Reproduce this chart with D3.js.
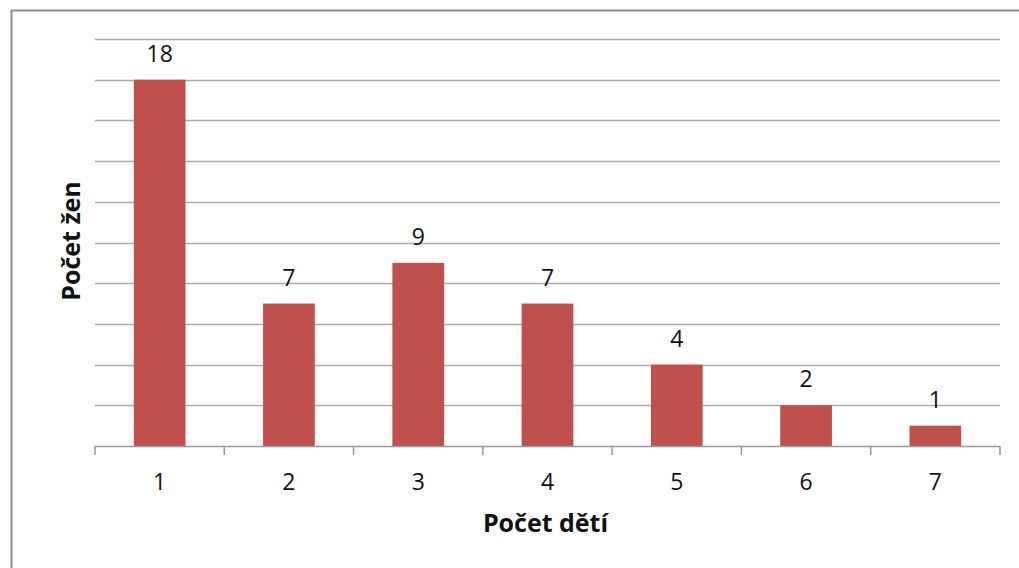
<!DOCTYPE html>
<html>
<head>
<meta charset="utf-8">
<script src="https://cdn.jsdelivr.net/npm/d3@7"></script>
<style>
  body { margin: 0; background: #fff; }
  text { font-family: "Open Sans", sans-serif; fill: #111; }
</style>
</head>
<body>
<div id="chart"></div>
<script>
// data
const categories = ["1", "2", "3", "4", "5", "6", "7"];
const values = [18, 7, 9, 7, 4, 2, 1];
const yTicks = [0, 2, 4, 6, 8, 10, 12, 14, 16, 18, 20];
const xTitle = "Počet dětí";
const yTitle = "Počet žen";

const width = 1019, height = 568;
const plot = { left: 95, right: 1000, top: 39, bottom: 446 };

const svg = d3.select("#chart").append("svg")
  .attr("width", width).attr("height", height);

// frame around the chart area (right and bottom are cut off)
svg.append("path")
  .attr("d", `M11.5,${height} V10.5 H${width}`)
  .attr("fill", "none").attr("stroke", "#8c8c8c").attr("stroke-width", 2);

const x = d3.scaleBand().domain(categories)
  .range([plot.left, plot.right])
  .paddingInner(0.6).paddingOuter(0.3);

const y = d3.scaleLinear().domain([0, 20]).range([plot.bottom, plot.top]);

// gridlines
svg.append("g").attr("class", "grid")
  .selectAll("line").data(yTicks.filter(d => d > 0))
  .enter().append("line")
  .attr("x1", plot.left).attr("x2", plot.right)
  .attr("y1", d => Math.round(y(d)) + 0.5).attr("y2", d => Math.round(y(d)) + 0.5)
  .attr("stroke", "#ababab").attr("stroke-width", 1.5);

// bars
svg.append("g").attr("class", "bars")
  .selectAll("rect").data(values)
  .enter().append("rect")
  .attr("x", (d, i) => x(categories[i]))
  .attr("width", x.bandwidth())
  .attr("y", d => y(d))
  .attr("height", d => y(0) - y(d))
  .attr("fill", "#c0504d");

// data labels
svg.append("g").attr("class", "labels")
  .selectAll("text").data(values)
  .enter().append("text")
  .attr("x", (d, i) => x(categories[i]) + x.bandwidth() / 2)
  .attr("y", d => y(d) - 18)
  .attr("text-anchor", "middle")
  .attr("font-size", 23)
  .text(d => d);

// x axis: line + tick marks at category boundaries
const axis = svg.append("g").attr("class", "x-axis");
axis.append("line")
  .attr("x1", plot.left).attr("x2", plot.right)
  .attr("y1", plot.bottom + 0.5).attr("y2", plot.bottom + 0.5)
  .attr("stroke", "#999").attr("stroke-width", 1.5);

const step = x.step();
const bounds = d3.range(categories.length + 1).map(i => plot.left + i * step);
axis.selectAll("line.tick").data(bounds)
  .enter().append("line").attr("class", "tick")
  .attr("x1", d => d).attr("x2", d => d)
  .attr("y1", plot.bottom).attr("y2", plot.bottom + 9)
  .attr("stroke", "#999").attr("stroke-width", 1.5);

axis.selectAll("text").data(categories)
  .enter().append("text")
  .attr("x", d => x(d) + x.bandwidth() / 2)
  .attr("y", 490)
  .attr("text-anchor", "middle")
  .attr("font-size", 23)
  .text(d => d);

// axis titles
svg.append("text")
  .attr("x", (plot.left + plot.right) / 2 - 2)
  .attr("y", 532)
  .attr("text-anchor", "middle")
  .attr("font-size", 25).attr("font-weight", "bold")
  .text(xTitle);

svg.append("text")
  .attr("transform", `translate(80, 241) rotate(-90)`)
  .attr("text-anchor", "middle")
  .attr("font-size", 25).attr("font-weight", "bold")
  .text(yTitle);
</script>
</body>
</html>
